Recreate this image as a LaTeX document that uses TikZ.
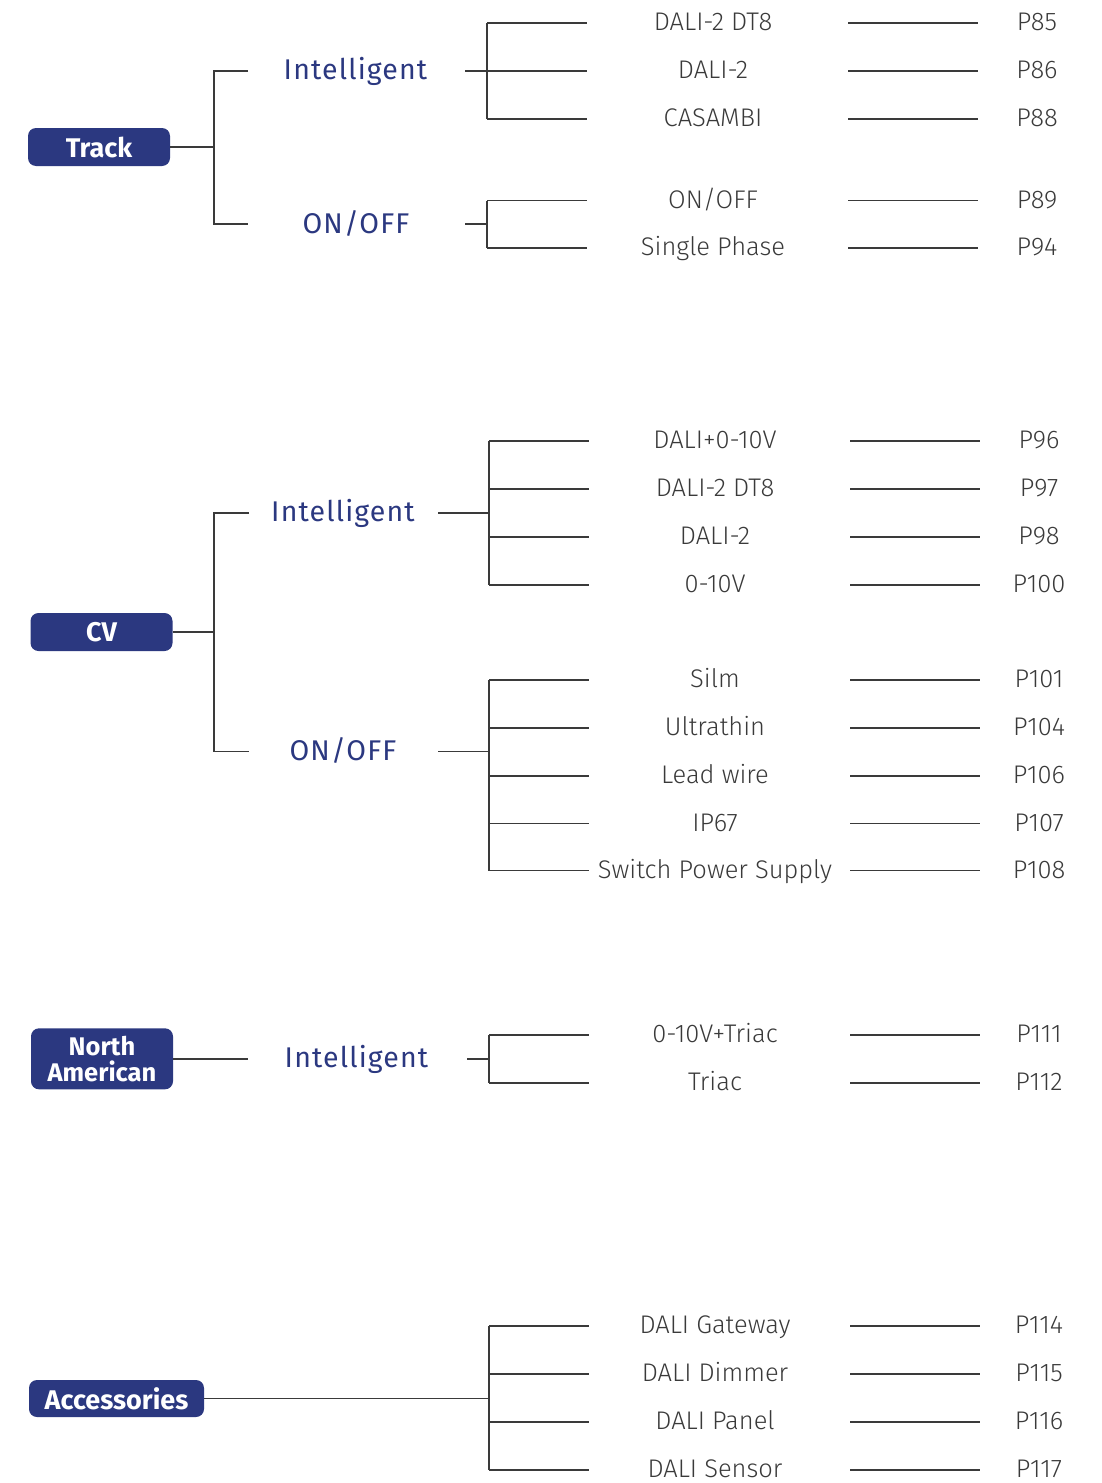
\documentclass[tikz,border=0pt]{standalone}
\usepackage{fontspec}
\setmainfont{Fira Sans}
\newfontfamily\leaffont{Fira Sans Light}
\newfontfamily\headfont[LetterSpace=4]{Fira Sans}
\newfontfamily\boxfont{Fira Sans Bold}
\definecolor{navy}{HTML}{2B3880}
\definecolor{ink}{HTML}{3A3A3A}
\tikzset{
  catbox/.style={fill=navy, rounded corners=8pt, text=white, inner sep=0pt,
    font=\boxfont\fontsize{27}{24}\selectfont, align=center},
  headtxt/.style={text=navy, anchor=base, inner sep=0pt, font=\headfont\fontsize{28.5}{28}\selectfont},
  leaftxt/.style={text=ink, anchor=base, inner sep=0pt, font=\leaffont\fontsize{25.5}{24}\selectfont},
  conn/.style={draw=ink, line width=1.5pt},
}
\newcommand\brow[4]{%
  \coordinate (#1s) at (\XB,#2);
  \coordinate (#1e) at (\XE,#2);
  \node[leaftxt] (#1) at (\XL,#2+7.5) {#3};
  \coordinate (#1a) at (\XA,#2);
  \coordinate (#1b) at (\XR,#2);
  \node[leaftxt] (#1p) at (\XP,#2+7.5) {#4};
  \draw[conn] (#1s) -- (#1e);
  \draw[conn] (#1a) -- (#1b);
}
\begin{document}
\begin{tikzpicture}[x=1pt,y=-1pt]
\useasboundingbox (0,0) rectangle (1102,1483);

% ---------------- Track ----------------
\node[catbox, minimum width=142pt, minimum height=38pt] (track) at (99,147) {Track};
\coordinate (tj) at (214,147);
\coordinate (tiL) at (248,71);
\coordinate (toL) at (248,224);
\draw[conn] (track.east) -- (tj);
\draw[conn] (tiL) -| (tj) |- (toL);
\node[headtxt] (ti) at (355.5,79) {Intelligent};
\node[headtxt] (to) at (356,233) {ON/OFF};

\def\XB{487}\def\XE{587}\def\XL{713}\def\XA{848}\def\XR{978}\def\XP{1037}
\brow{ta}{23}{DALI-2 DT8}{P85}
\brow{tb}{71}{DALI-2}{P86}
\brow{tc}{119}{CASAMBI}{P88}
\brow{td}{200.5}{ON/OFF}{P89}
\brow{te}{248}{Single Phase}{P94}
\coordinate (tiR) at (465,71);
\coordinate (toR) at (465,224);
\draw[conn] (tiR) -- (tbs);
\draw[conn] (tas) -- (tcs);
\draw[conn] (toR) -- (\XB,224);
\draw[conn] (tds) -- (tes);

% ---------------- CV ----------------
\node[catbox, minimum width=142pt, minimum height=38pt] (cv) at (101.5,632) {CV};
\coordinate (cj) at (214,632);
\coordinate (ciL) at (249,513);
\coordinate (coL) at (249,751.5);
\draw[conn] (cv.east) -- (cj);
\draw[conn] (ciL) -| (cj) |- (coL);
\node[headtxt] (ci) at (343,521.5) {Intelligent};
\node[headtxt] (co) at (343,760.5) {ON/OFF};

\def\XB{489}\def\XE{589}\def\XL{715}\def\XA{850}\def\XR{980}\def\XP{1039}
\brow{ca}{441}{DALI+0-10V}{P96}
\brow{cb}{489}{DALI-2 DT8}{P97}
\brow{cc}{537}{DALI-2}{P98}
\brow{cd}{585}{0-10V}{P100}
\brow{ce}{680}{Silm}{P101}
\brow{cf}{728}{Ultrathin}{P104}
\brow{cg}{776}{Lead wire}{P106}
\brow{ch}{823.5}{IP67}{P107}
\brow{ck}{870.5}{Switch Power Supply}{P108}
\coordinate (ciR) at (438,513);
\coordinate (coR) at (438,751.5);
\coordinate (cij) at (489,513);
\coordinate (coj) at (489,751.5);
\draw[conn] (ciR) -- (cij);
\draw[conn] (cas) -- (cds);
\draw[conn] (coR) -- (coj);
\draw[conn] (ces) -- (cks);

% ---------------- North American ----------------
\node[catbox, minimum width=142pt, minimum height=61pt,
      font=\boxfont\fontsize{25.5}{25.5}\selectfont] (na) at (102,1058.8) {North\\American};
\coordinate (naL) at (248,1058.8);
\draw[conn] (na.east) -- (naL);
\node[headtxt] (ni) at (356.5,1067.5) {Intelligent};
\brow{na1}{1035}{0-10V+Triac}{P111}
\brow{na2}{1083}{Triac}{P112}
\coordinate (niR) at (467,1059);
\coordinate (nij) at (489,1059);
\draw[conn] (niR) -- (nij);
\draw[conn] (na1s) -- (na2s);

% ---------------- Accessories ----------------
\node[catbox, minimum width=175pt, minimum height=37pt] (acc) at (116.5,1398.5) {Accessories};
\coordinate (accj) at (489,1398.5);
\draw[conn] (acc.east) -- (accj);
\brow{aa}{1326}{DALI Gateway}{P114}
\brow{ab}{1374}{DALI Dimmer}{P115}
\brow{ac}{1422}{DALI Panel}{P116}
\brow{ad}{1470}{DALI Sensor}{P117}
\draw[conn] (aas) -- (ads);
\end{tikzpicture}
\end{document}
